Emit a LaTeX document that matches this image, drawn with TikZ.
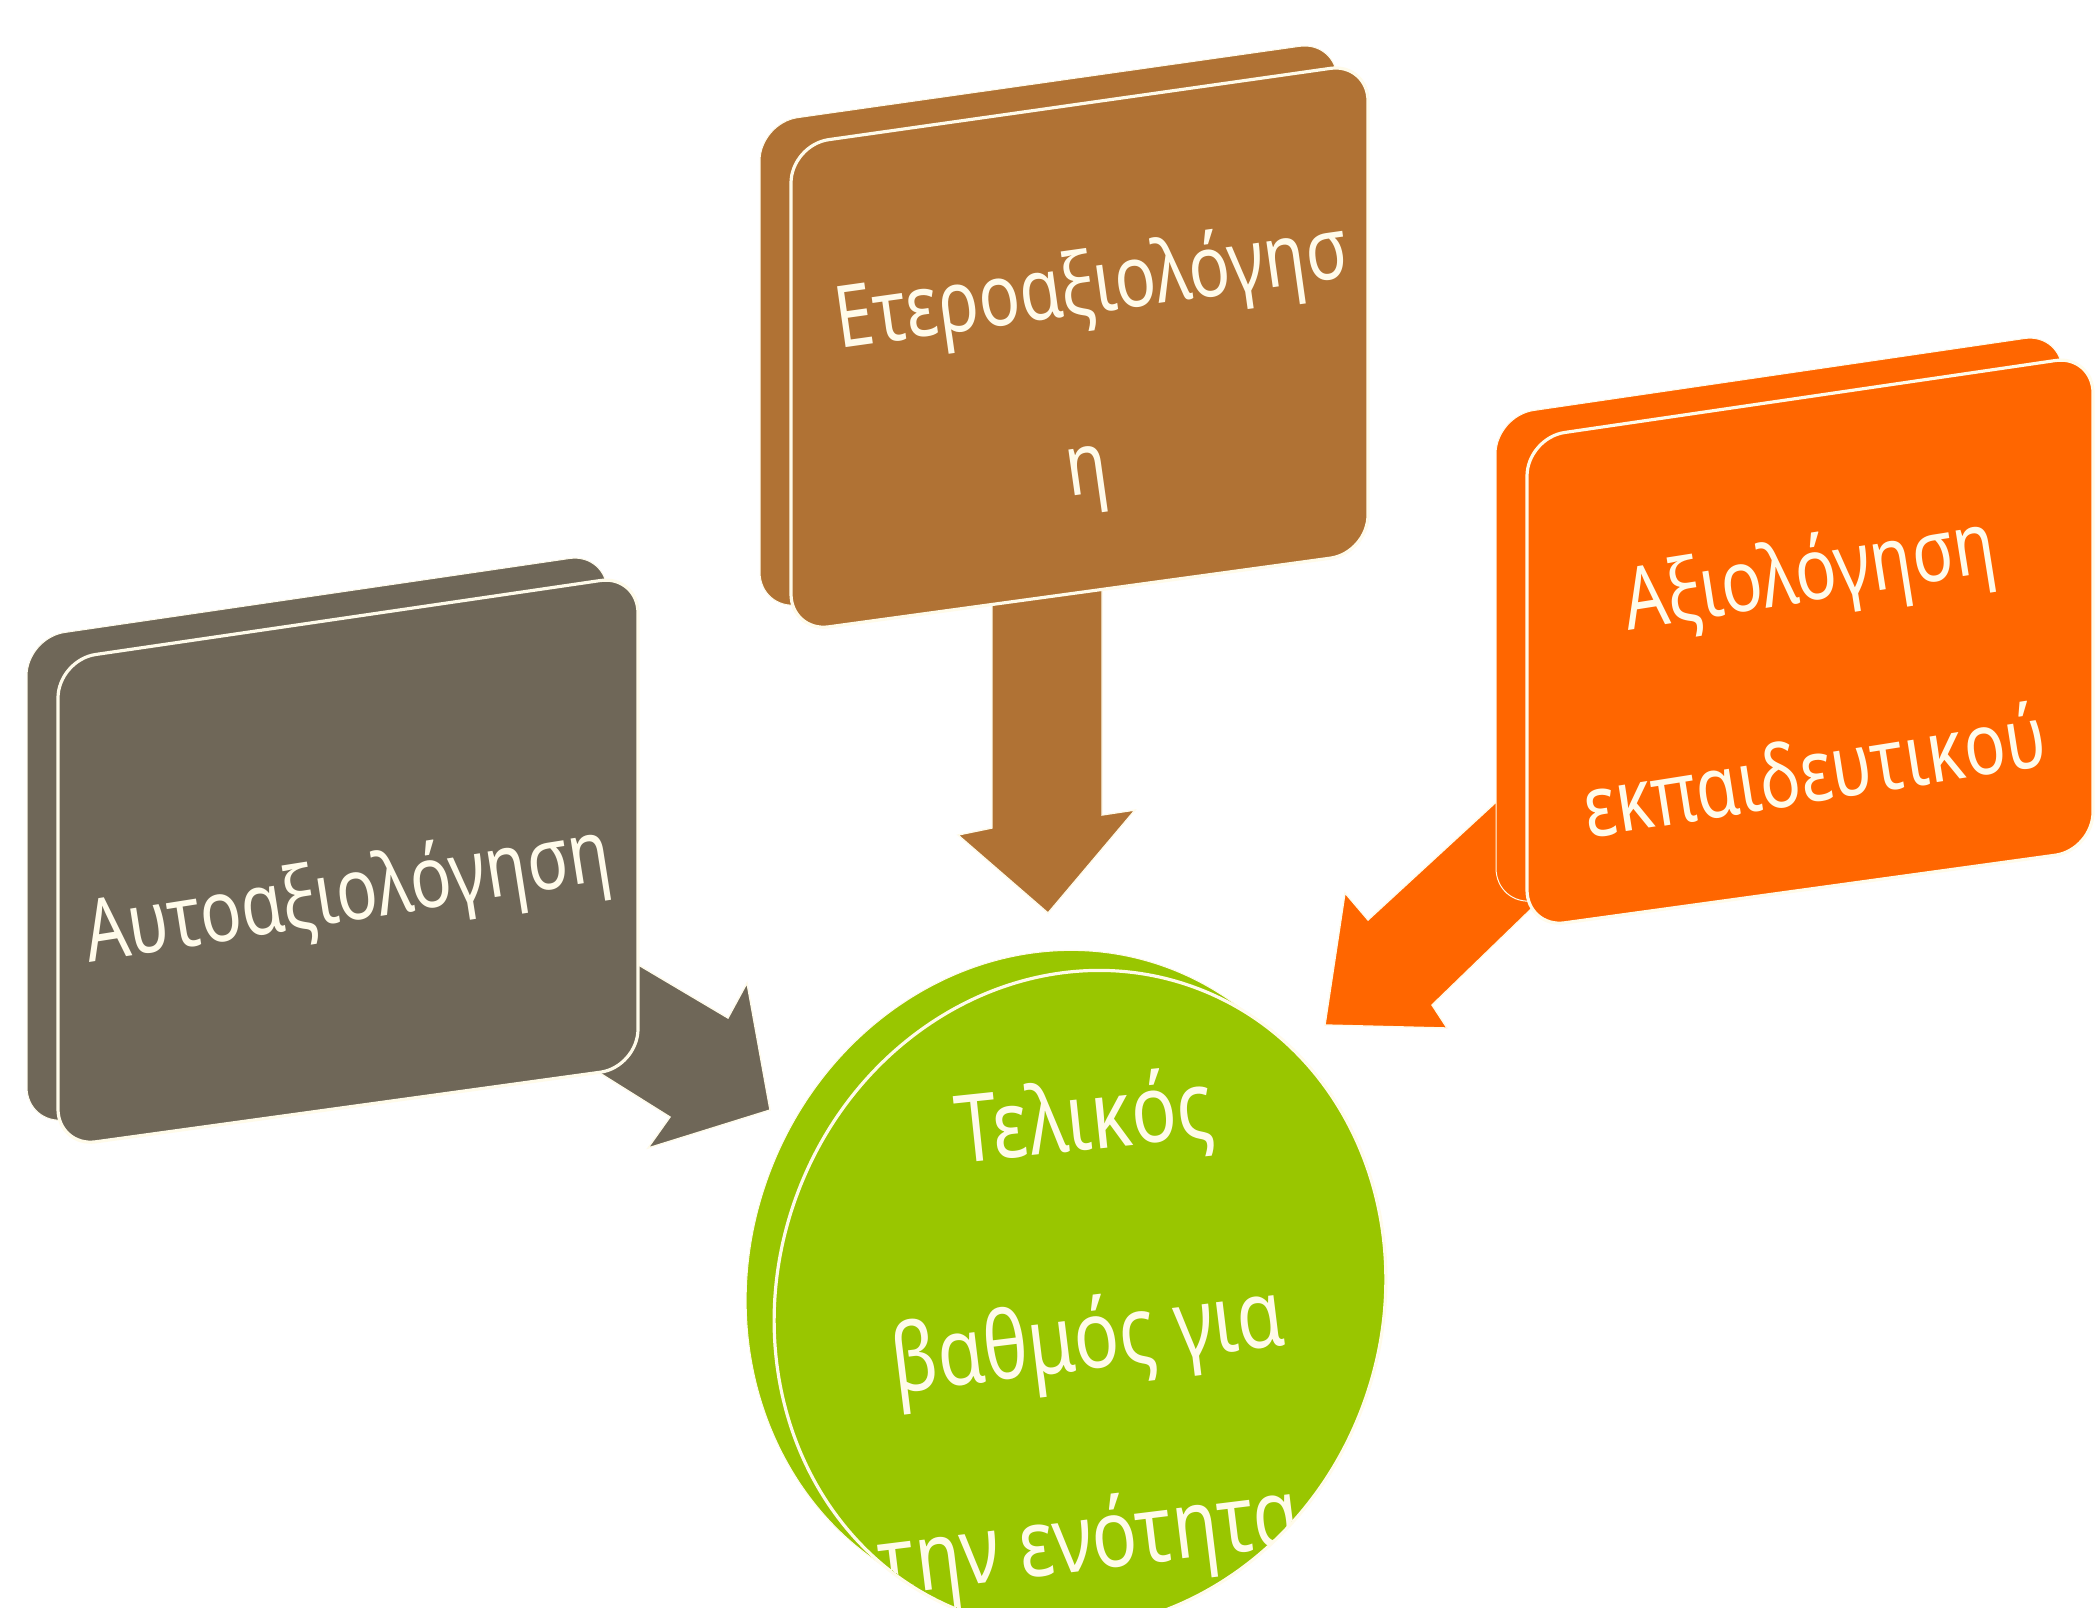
\documentclass[tikz,border=0pt]{standalone}
\usepackage{fontspec}
\setmainfont{Noto Sans}
\definecolor{cbrown}{HTML}{B07234}
\definecolor{cgray}{HTML}{6F6758}
\definecolor{corange}{HTML}{FF6600}
\definecolor{cgreen}{HTML}{99C600}
\definecolor{cream}{HTML}{FFFBEA}
\begin{document}
\begin{tikzpicture}[x=0.5pt,y=-0.5pt,
  lbl/.style={text=cream, font=\fontsize{43}{50}\selectfont, xscale=0.8, inner sep=0pt},
  glbl/.style={text=cream, font=\fontsize{47}{54}\selectfont, xscale=0.8, inner sep=0pt},
  face/.style={rounded corners=19pt, draw=cream, line width=1.6pt},
  backface/.style={rounded corners=19pt, draw=cream, line width=0.5pt},
  arr/.style={draw=cream, line width=0.7pt, line join=miter}]
\useasboundingbox[fill=white] (0,0) rectangle (2097,1607);

% ---------- green disc ----------
\fill[cgreen, draw=cream, line width=0.5pt, rotate around={-20:(1052,1280)}]
  (1052,1280) ellipse [x radius=302, y radius=333];
\fill[cgreen, draw=cream, line width=1.6pt, rotate around={-20:(1080,1300)}]
  (1080,1300) ellipse [x radius=302, y radius=333];
\begin{scope}
  \clip[rotate around={-20:(1080,1300)}] (1080,1300) ellipse [x radius=300, y radius=331];
  \node[rotate=6, glbl] (t1) at (1085,1123) {Τελικός};
  \node[rotate=7, glbl] (t2) at (1088,1344) {βαθμός για};
  \node[rotate=7, glbl] (t3) at (1090,1545) {την ενότητα};
\end{scope}

% ---------- arrows ----------
\fill[cgray, arr] (598,941) -- (728,1018) -- (747,983) -- (770,1110) -- (648,1148)
  -- (670,1117) -- (563,1050) -- cycle;
\fill[cbrown, arr] (992,580) -- (992,828) -- (958,835) -- (1048,913) -- (1135,810)
  -- (1102,815) -- (1102,570) -- cycle;
\fill[corange, arr] (1520,780) -- (1368,920) -- (1345,893) -- (1325,1025) -- (1447,1028)
  -- (1432,1005) -- (1559,882) -- cycle;

% ---------- gray box ----------
\fill[cgray, backface, shift={(-31,-22)}] (58,660) -- (638,575) -- (638,1067) -- (58,1147) -- cycle;
\fill[cgray, face] (58,660) -- (638,575) -- (638,1067) -- (58,1147) -- cycle;
\node[rotate=9, lbl] (gray) at (348,898) {Αυτοαξιολόγηση};

% ---------- brown box ----------
\fill[cbrown, backface, shift={(-31,-22)}] (791,145) -- (1368,63) -- (1368,553) -- (791,632) -- cycle;
\fill[cbrown, face] (791,145) -- (1368,63) -- (1368,553) -- (791,632) -- cycle;
\node[rotate=8, lbl] (brown1) at (1092,290) {Ετεροαξιολόγησ};
\node[rotate=8, lbl] (brown2) at (1088,481) {η};

% ---------- orange box ----------
\fill[corange, backface, shift={(-31,-22)}] (1527,438) -- (2093,355) -- (2093,850) -- (1527,928) -- cycle;
\fill[corange, face] (1527,438) -- (2093,355) -- (2093,850) -- (1527,928) -- cycle;
\node[rotate=9, lbl] (or1) at (1810,578) {Αξιολόγηση};
\node[rotate=9, lbl] (or2) at (1814,769) {εκπαιδευτικού};
\end{tikzpicture}
\end{document}
